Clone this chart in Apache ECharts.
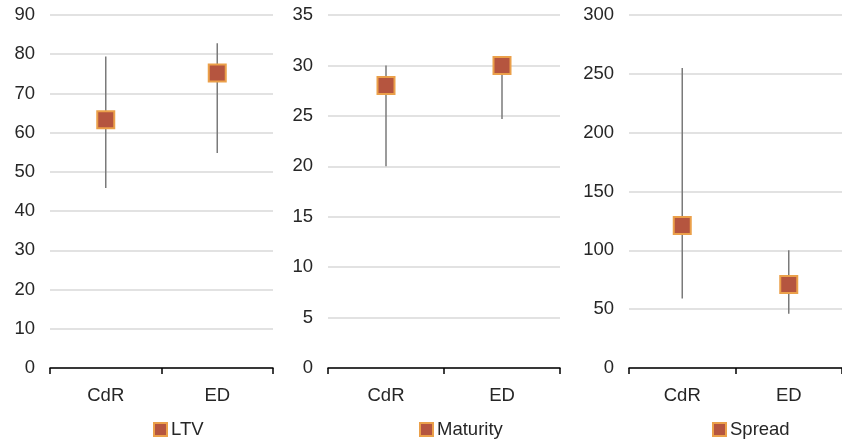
<!DOCTYPE html>
<html><head><meta charset="utf-8">
<script src="https://cdn.jsdelivr.net/npm/echarts@6/dist/echarts.min.js"></script>
<style>html,body{margin:0;padding:0;background:#fff}#c{width:842px;height:443px}</style>
</head><body><div id="c"></div>
<script>
const categories = ['CdR', 'ED'];
const ltvMean = [63.3, 75.2];
const ltvLow = [45.9, 54.8];
const ltvHigh = [79.4, 82.8];
const matMean = [28, 30];
const matLow = [20, 24.7];
const matHigh = [30, 30];
const sprMean = [121, 71];
const sprLow = [59, 46];
const sprHigh = [255, 100];
const panelNames = ['LTV', 'Maturity', 'Spread'];
const panelMax = [90, 35, 300];
const panelInterval = [10, 5, 50];

const chart = echarts.init(document.getElementById('c'));
const font = 'Liberation Sans, Arial, sans-serif';
const textColor = '#262626';
const grids = [
  {left: 50, width: 223, top: 15, bottom: 75},
  {left: 328, width: 232, top: 15, bottom: 75},
  {left: 629, width: 213, top: 15, bottom: 75}
];
const legendLeft = [148, 414, 707];
const means = [ltvMean, matMean, sprMean];
const lows = [ltvLow, matLow, sprLow];
const highs = [ltvHigh, matHigh, sprHigh];

const xAxis = [], yAxis = [], series = [], legend = [];
for (let i = 0; i < 3; i++) {
  xAxis.push({type: 'category', gridIndex: i, data: categories, boundaryGap: true,
    axisLine: {lineStyle: {color: '#000', width: 1.5}},
    axisTick: {show: true, length: 6, lineStyle: {color: '#000', width: 1.5}},
    axisLabel: {color: textColor, fontSize: 18.5, fontFamily: font, margin: 18}});
  yAxis.push({type: 'value', gridIndex: i, min: 0, max: panelMax[i], interval: panelInterval[i],
    axisLine: {show: false}, axisTick: {show: false},
    splitLine: {lineStyle: {color: '#d9d9d9', width: 1.5}},
    axisLabel: {color: textColor, fontSize: 18.5, fontFamily: font, margin: 15}});
  const lo = lows[i], hi = highs[i];
  series.push({type: 'custom', xAxisIndex: i, yAxisIndex: i, silent: true,
    data: categories.map((c, j) => [j, lo[j], hi[j]]),
    renderItem: function (params, api) {
      const p1 = api.coord([api.value(0), api.value(1)]);
      const p2 = api.coord([api.value(0), api.value(2)]);
      return {type: 'line', shape: {x1: p1[0], y1: p1[1], x2: p2[0], y2: p2[1]},
        style: {stroke: '#7a7a7a', lineWidth: 1.5}};
    }, z: 1});
  series.push({type: 'scatter', name: panelNames[i], xAxisIndex: i, yAxisIndex: i,
    data: means[i], symbol: 'rect', symbolSize: 17,
    itemStyle: {color: '#b5553f', borderColor: '#eba04a', borderWidth: 2, opacity: 1}, z: 3});
  legend.push({data: [panelNames[i]], left: legendLeft[i], top: 415, icon: 'rect',
    itemWidth: 13, itemHeight: 13, itemGap: 4,
    textStyle: {color: textColor, fontSize: 18.5, fontFamily: font, padding: [0, 0, 0, -1]}});
}

chart.setOption({animation: false, grid: grids, xAxis, yAxis, series, legend});
</script></body></html>
